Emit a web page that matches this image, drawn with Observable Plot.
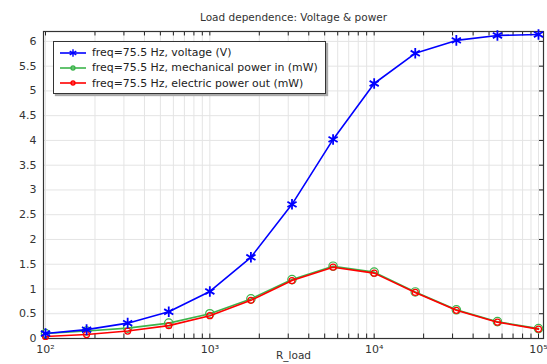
<!DOCTYPE html>
<html><head><meta charset="utf-8">
<script src="https://cdn.jsdelivr.net/npm/d3@7"></script>
<script src="https://cdn.jsdelivr.net/npm/@observablehq/plot@0.6"></script>
<style>
body{margin:0;background:#fff;font-family:"DejaVu Sans",sans-serif}
#wrap{position:relative;width:547px;height:364px}
#legend{position:absolute;left:53px;top:41px;width:271px;height:51px;border:1px solid #333;background:#fff;box-shadow:2px 2px 1px #aaa;font-family:"DejaVu Sans",sans-serif;font-size:10.9px;color:#222;white-space:nowrap}
.row{position:absolute;left:0;height:15px;display:flex;align-items:center}
.row svg{margin-left:6px;margin-right:6px}
</style></head><body><div id="wrap"></div>
<script>
const rLoad = [100, 177.8, 316.2, 562.3, 1000, 1778, 3162, 5623, 10000, 17783, 31623, 56234, 100000];
const voltage = [0.10, 0.18, 0.31, 0.54, 0.95, 1.64, 2.71, 4.02, 5.15, 5.76, 6.02, 6.12, 6.14];
const mechPower = [0.10, 0.15, 0.21, 0.31, 0.50, 0.80, 1.19, 1.46, 1.34, 0.94, 0.58, 0.34, 0.20];
const elecPower = [0.04, 0.08, 0.15, 0.26, 0.46, 0.77, 1.17, 1.44, 1.32, 0.93, 0.57, 0.33, 0.19];
const seriesNames = ["freq=75.5 Hz, voltage (V)", "freq=75.5 Hz, mechanical power in (mW)", "freq=75.5 Hz, electric power out (mW)"];
const seriesColors = ["#0000ff", "#3cb44b", "#ff0000"];
const seriesSymbols = ["asterisk", "circle", "circle"];
const titleText = "Load dependence: Voltage & power";
const xLabel = "R_load";
const yTicks = [0, 0.5, 1, 1.5, 2, 2.5, 3, 3.5, 4, 4.5, 5, 5.5, 6];
const xMajor = [100, 1000, 10000, 100000];
const xMajorLabels = ["10²", "10³", "10⁴", "10⁵"];

const xGrid = [];
for (const d of [100, 1000, 10000]) for (let k = 1; k <= 9; k++) xGrid.push(d * k);
xGrid.push(100000);

const xDomain = [Math.pow(10, 1.9878), Math.pow(10, 5.0304)];
const yDomain = [0, 6.2];

const data = [];
const allSeries = [voltage, mechPower, elecPower];
allSeries.forEach((vals, si) => vals.forEach((v, i) => data.push({x: rLoad[i], y: v, s: si})));
const sData = si => data.filter(d => d.s === si);

const xLabelData = xMajor.map((v, i) => ({x: v, label: xMajorLabels[i]}));

const tickLen = 0.09;
const rightTickX1 = Math.pow(10, 5.0304 - 4 / 164.3);

const chart = Plot.plot({
  width: 547, height: 364,
  marginTop: 31, marginBottom: 26, marginLeft: 43, marginRight: 4,
  style: {fontFamily: "DejaVu Sans, sans-serif", fontSize: "11px", color: "#333", background: "#fff", overflow: "visible"},
  x: {type: "log", domain: xDomain, axis: null},
  y: {domain: yDomain, axis: null},
  marks: [
    Plot.ruleX(xGrid, {stroke: "#e4e4e4", strokeWidth: 1}),
    Plot.ruleY(yTicks, {stroke: "#e4e4e4", strokeWidth: 1}),
    Plot.ruleX(xGrid, {y1: 0, y2: tickLen, stroke: "#222"}),
    Plot.ruleX(xGrid, {y1: 6.2 - tickLen, y2: 6.2, stroke: "#222"}),
    Plot.ruleY(yTicks, {x1: rightTickX1, x2: xDomain[1], stroke: "#222"}),
    Plot.frame({stroke: "#333", strokeWidth: 1.2}),
    Plot.axisY({ticks: yTicks, tickSize: 0, tickPadding: 7, tickFormat: d => String(d), label: null}),
    Plot.text(xLabelData, {x: "x", text: "label", frameAnchor: "bottom", dy: 14, fontSize: 11, fill: "#333"}),
    Plot.line(sData(1), {x: "x", y: "y", stroke: seriesColors[1], strokeWidth: 1.6}),
    Plot.dot(sData(1), {x: "x", y: "y", stroke: seriesColors[1], fill: "none", symbol: "circle", r: 4.2, strokeWidth: 1.2}),
    Plot.line(sData(2), {x: "x", y: "y", stroke: seriesColors[2], strokeWidth: 1.6}),
    Plot.dot(sData(2), {x: "x", y: "y", stroke: seriesColors[2], fill: "none", symbol: "circle", r: 3, strokeWidth: 1.2}),
    Plot.line(sData(0), {x: "x", y: "y", stroke: seriesColors[0], strokeWidth: 1.6}),
    Plot.dot(sData(0), {x: "x", y: "y", stroke: seriesColors[0], fill: "none", symbol: "asterisk", r: 5, strokeWidth: 1.8}),
    Plot.text([titleText], {frameAnchor: "top", dy: -18, fontSize: 10.5, fill: "#333"}),
    Plot.text([xLabel], {frameAnchor: "bottom", dy: 20, fontSize: 10.5, fill: "#333"})
  ]
});
const wrap = document.getElementById("wrap");
wrap.appendChild(chart);

const legend = document.createElement("div");
legend.id = "legend";
seriesNames.forEach((name, i) => {
  const row = document.createElement("div");
  row.className = "row";
  row.style.top = (3 + i * 15.3) + "px";
  const ns = "http://www.w3.org/2000/svg";
  const svg = document.createElementNS(ns, "svg");
  svg.setAttribute("width", 26); svg.setAttribute("height", 12);
  const ln = document.createElementNS(ns, "line");
  ln.setAttribute("x1", 0); ln.setAttribute("x2", 26); ln.setAttribute("y1", 6); ln.setAttribute("y2", 6);
  ln.setAttribute("stroke", seriesColors[i]); ln.setAttribute("stroke-width", 1.6);
  svg.appendChild(ln);
  const sym = document.createElementNS(ns, "path");
  const type = seriesSymbols[i] === "asterisk" ? d3.symbolAsterisk : d3.symbolCircle;
  sym.setAttribute("d", d3.symbol(type, seriesSymbols[i] === "asterisk" ? 40 : 12)());
  sym.setAttribute("transform", "translate(13,6)");
  sym.setAttribute("fill", "none");
  sym.setAttribute("stroke", seriesColors[i]);
  sym.setAttribute("stroke-width", 1.4);
  svg.appendChild(sym);
  row.appendChild(svg);
  const t = document.createElement("span");
  t.textContent = name;
  row.appendChild(t);
  legend.appendChild(row);
});
wrap.appendChild(legend);
</script>
</body></html>
